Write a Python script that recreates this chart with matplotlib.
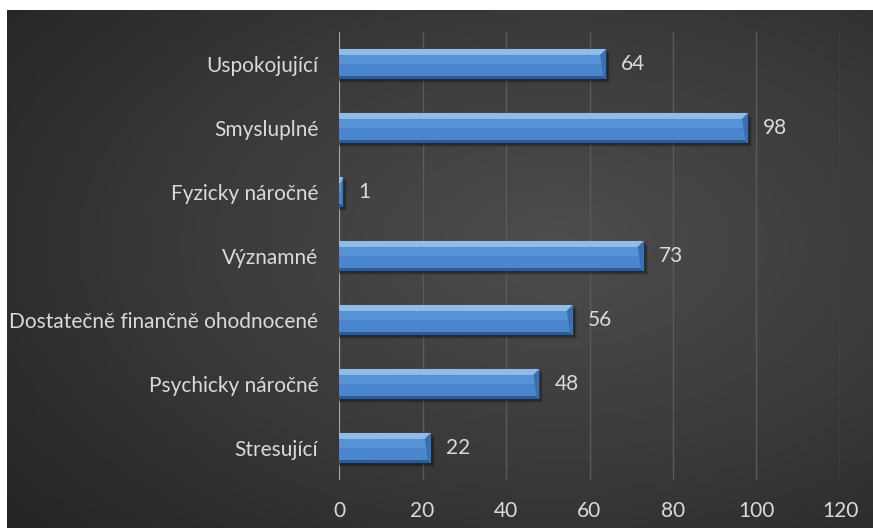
import numpy as np
import matplotlib
matplotlib.use("Agg")
import matplotlib.pyplot as plt
from matplotlib.patches import Rectangle, Polygon
from matplotlib.colors import LinearSegmentedColormap

categories = ["Uspokojující", "Smysluplné", "Fyzicky náročné", "Významné",
              "Dostatečně finančně ohodnocené", "Psychicky náročné", "Stresující"]
values = [64, 98, 1, 73, 56, 48, 22]
xticks = [0, 20, 40, 60, 80, 100, 120]

FONT = ["Lato", "DejaVu Sans"]
FS = 15

W, H = 873, 528
fig = plt.figure(figsize=(W / 100, H / 100), dpi=100)
fig.patch.set_facecolor("white")

# background with radial gradient
bg = fig.add_axes([7 / W, 0, 1 - 7 / W, 1 - 10 / H])
bg.set_axis_off()
yy, xx = np.mgrid[0:200, 0:300]
cx, cy = 190, 90
r = np.sqrt(((xx - cx) / 300) ** 2 + ((yy - cy) / 200) ** 2)
r = r / r.max()
cmap_bg = LinearSegmentedColormap.from_list("bg", ["#4d4d4d", "#3a3a3a", "#242424"])
bg.imshow(r, cmap=cmap_bg, aspect="auto", extent=[0, 1, 0, 1], origin="upper")
bg.set_xlim(0, 1)
bg.set_ylim(0, 1)

ax = fig.add_axes([339 / W, 48 / H, (840 - 339) / W, (480 - 32) / H])
ax.set_facecolor("none")
ax.set_xlim(0, 120)
n = len(categories)
ax.set_ylim(n - 0.5, -0.5)
for s in ax.spines.values():
    s.set_visible(False)
ax.set_xticks(xticks)
ax.set_yticks(range(n))
ax.set_yticklabels(categories)
ax.tick_params(axis="both", length=0, colors="#dadada", labelsize=FS)
ax.tick_params(axis="y", pad=15)
ax.tick_params(axis="x", pad=15)
for lbl in ax.get_xticklabels() + ax.get_yticklabels():
    lbl.set_fontfamily(FONT)
ax.grid(axis="x", color="#5a5a5a", linewidth=1)
ax.set_axisbelow(True)
ax.axvline(0, color="#a6a6a6", linewidth=1.5, zorder=2)

bh = 0.47
px_x = 120 / (840 - 339)
px_y = n / (480 - 32)
bev_x = 6 * px_x
bev_y = 6 * px_y
bot_y = 3 * px_y
for i, v in enumerate(values):
    y0 = i - bh / 2
    y1 = i + bh / 2
    # shadow
    for k, a in [(4, 0.15), (3, 0.2), (2, 0.25)]:
        ax.add_patch(Rectangle((0, y0 + k * px_y), v + k * px_x, bh, facecolor="#101010",
                               alpha=a, edgecolor="none", zorder=3))
    # main body gradient
    ax.add_patch(Rectangle((0, y0), v, bh, facecolor="#4a86cb", edgecolor="none", zorder=4))
    ax.add_patch(Rectangle((0, y0 + bev_y), v, (bh - bev_y - bot_y) * 0.45,
                           facecolor="#5592d6", edgecolor="none", zorder=4))
    bx = min(bev_x, v / 2)
    # top bevel
    ax.add_patch(Polygon([(0, y0), (v, y0), (v - bx, y0 + bev_y), (0, y0 + bev_y)],
                         closed=True, facecolor="#8dbcef", edgecolor="none", zorder=5))
    # bottom edge
    ax.add_patch(Polygon([(0, y1), (v, y1), (v - bx / 2, y1 - bot_y), (0, y1 - bot_y)],
                         closed=True, facecolor="#2c5a94", edgecolor="none", zorder=5))
    # right bevel
    ax.add_patch(Polygon([(v, y0), (v, y1), (v - bx / 2, y1 - bot_y), (v - bx, y0 + bev_y)],
                         closed=True, facecolor="#3a6fae", edgecolor="none", zorder=5))
    ax.text(v + 15 * px_x, i, str(v), va="center", ha="left", color="#dadada",
            fontsize=FS, family=FONT, zorder=6)

fig.savefig("out.png", dpi=100, facecolor=fig.get_facecolor())
